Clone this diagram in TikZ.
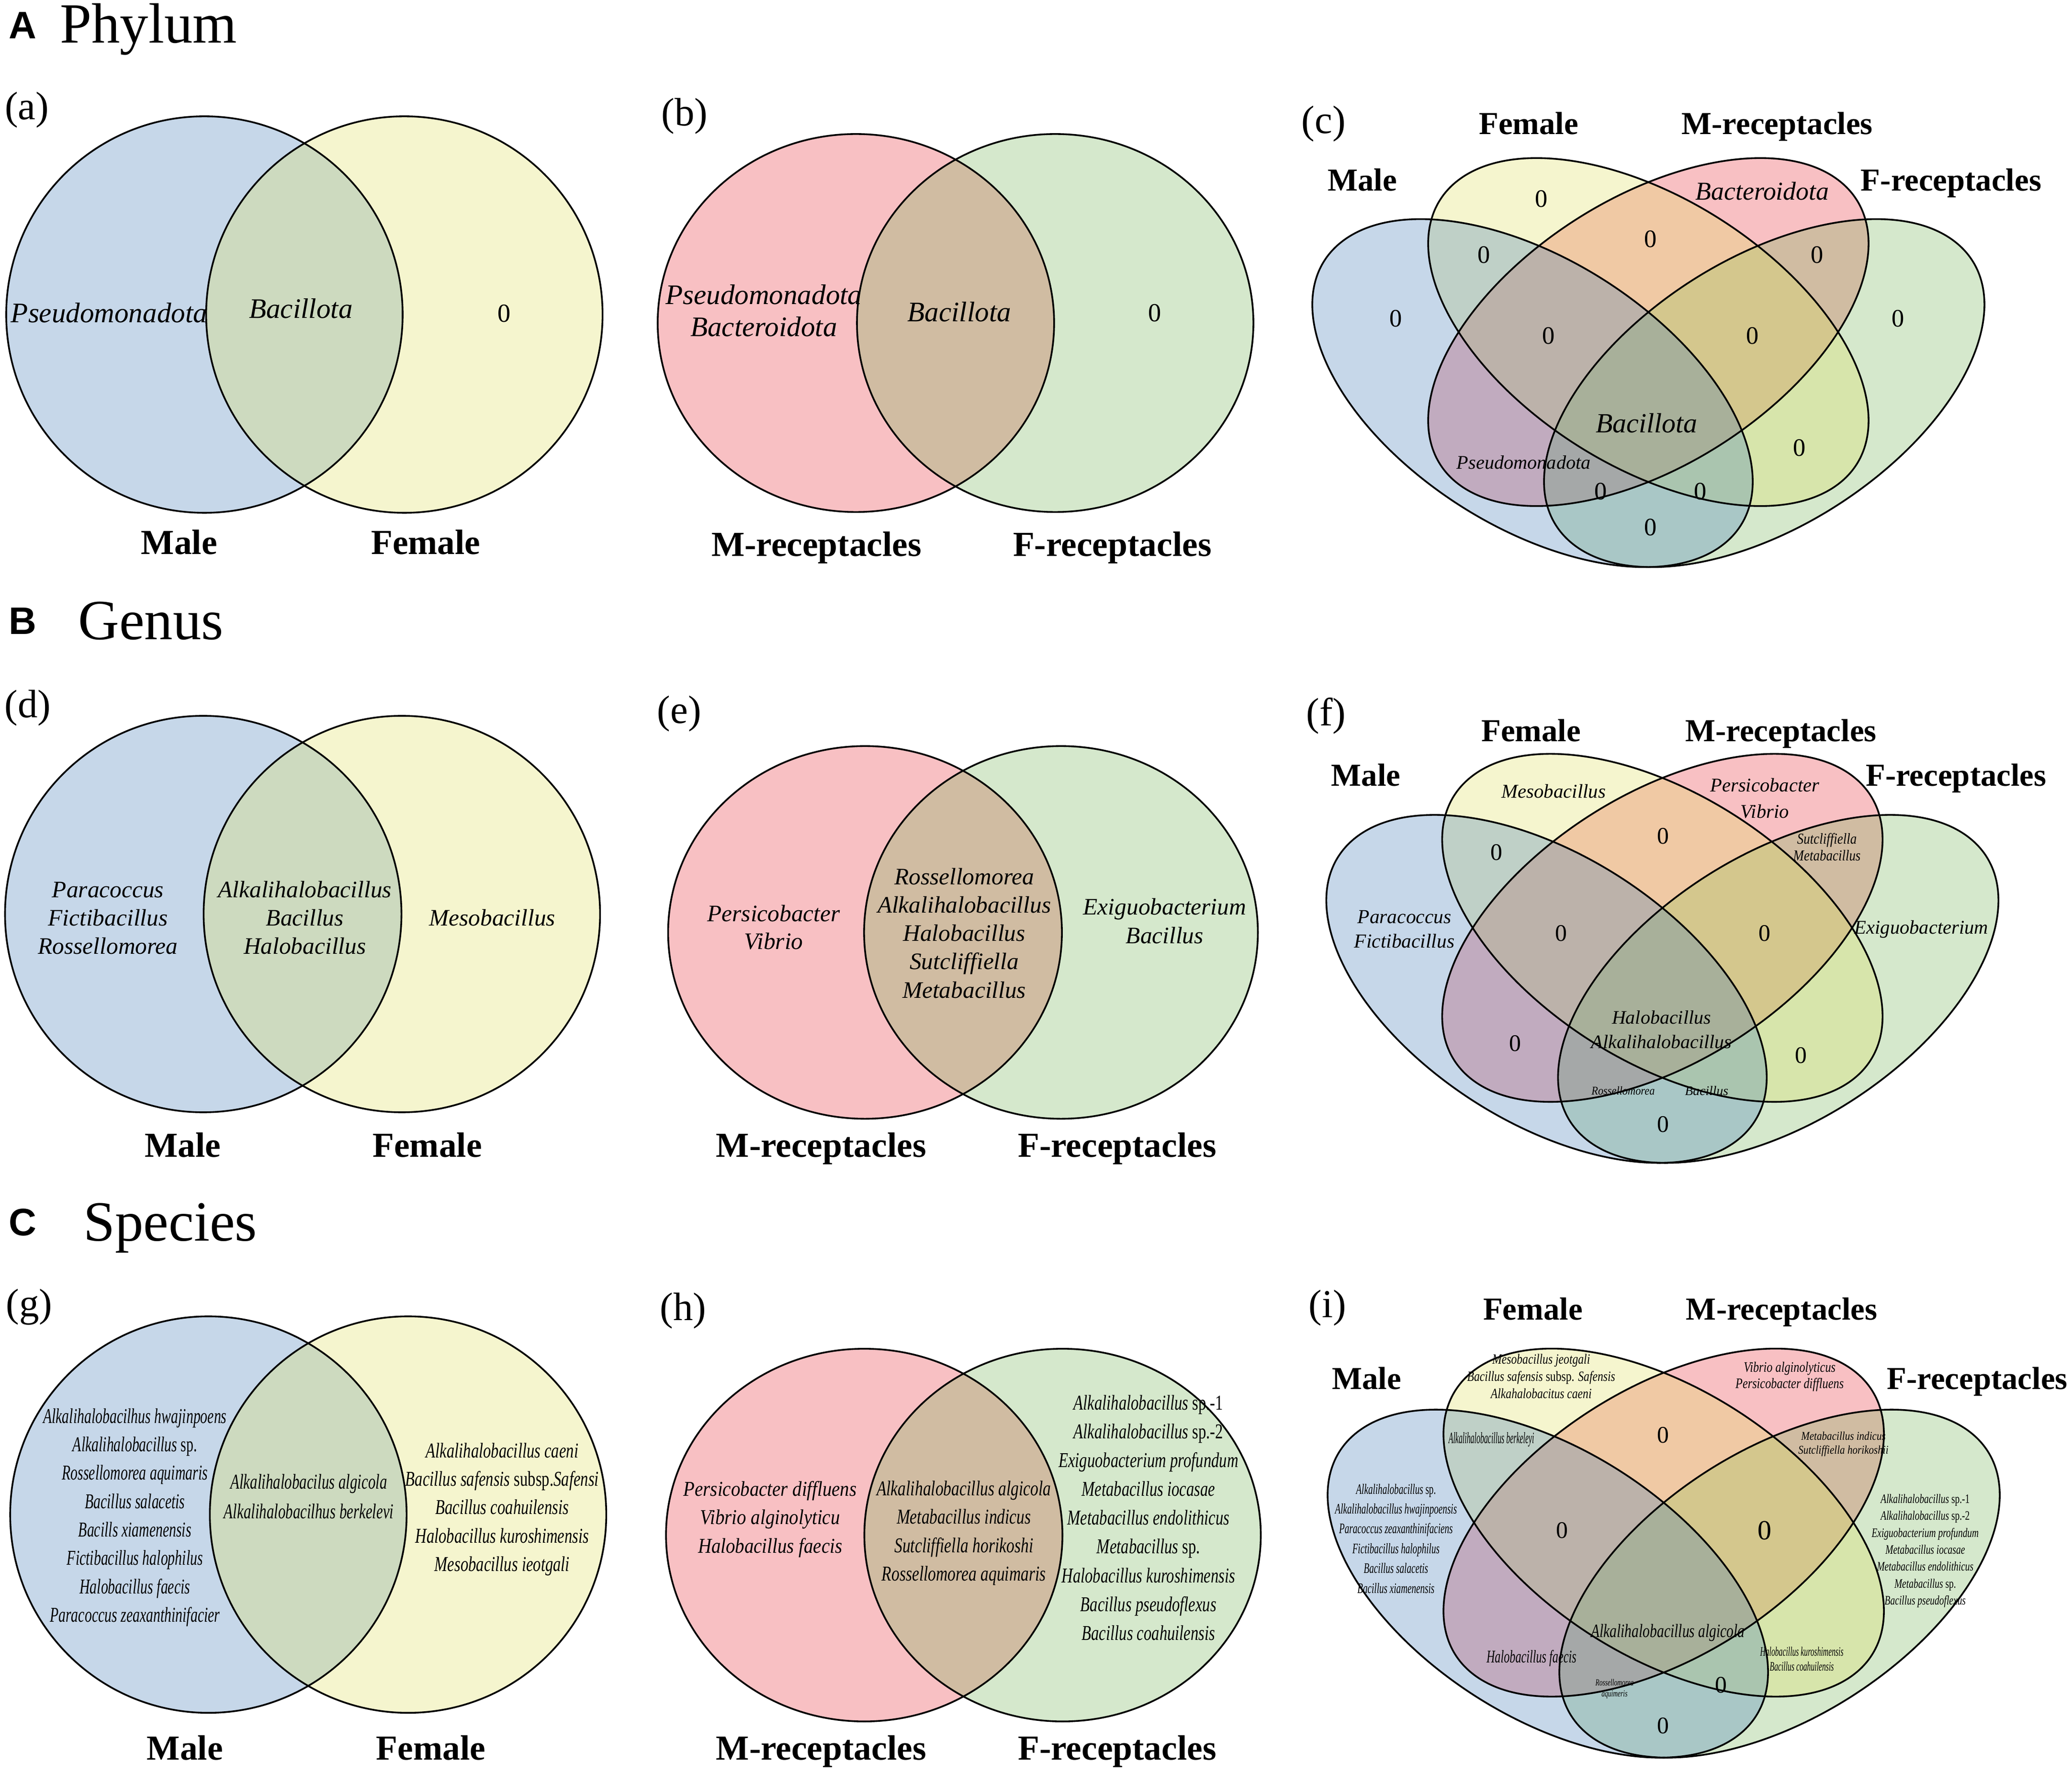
\documentclass[tikz,border=0pt]{standalone}
\usepackage{fontspec}
\setmainfont{Liberation Serif}
\newfontfamily\hdfont{Liberation Sans}
\usepackage{graphicx}
\newcommand{\sx}[2]{\scalebox{#1}[1]{#2}}
\newcommand{\fs}[1]{\fontsize{#1}{#1}\selectfont}
\definecolor{cblue}{RGB}{68,125,185}
\definecolor{cyel}{RGB}{222,225,95}
\definecolor{cpink}{RGB}{232,48,58}
\definecolor{cgreen}{RGB}{118,182,88}
\tikzset{
  vfill/.style={fill=#1, fill opacity=0.3, draw=none},
  vline/.style={draw=black, line width=1.3pt, fill=none},
  itx/.style={inner sep=0pt, anchor=base, font=\itshape},
  lab/.style={inner sep=0pt, anchor=base, font=\fs{26.6}\bfseries},
  labq/.style={inner sep=0pt, anchor=base, font=\fs{24.2}\bfseries},
  plab/.style={inner sep=0pt, anchor=base, font=\fs{30}},
  hdA/.style={inner sep=0pt, anchor=base west, font=\hdfont\bfseries\fs{29}},
  hdT/.style={inner sep=0pt, anchor=base west, font=\fs{43}},
  zero/.style={inner sep=0pt, anchor=base, font=\fs{#1}},
  zero/.default=19,
  it/.style={inner sep=0pt, anchor=base, font=\itshape\fs{#1}}
}
\newcommand{\tlist}[7]{%
  \foreach \tx [count=\ti] in {#7} {%
    \node[itx, font=\itshape\fs{#5}] (#1-\ti) at (#2,{#3+(\ti-1)*(#4)}) {\sx{#6}{\tx}};
  }}
\newcommand{\fourway}[2]{%
  \begin{scope}[shift={(#1,#2)}, xscale=584.5, yscale=-461.8]
    \fill[vfill=cpink, shift={(0,-0.0326)}, rotate=-45] (0,0) ellipse [x radius=0.35pt, y radius=0.2pt];
    \fill[vfill=cgreen, shift={(0.15,-0.1326)}, rotate=-45] (0,0) ellipse [x radius=0.35pt, y radius=0.2pt];
    \fill[vfill=cyel, shift={(0,-0.0326)}, rotate=45] (0,0) ellipse [x radius=0.35pt, y radius=0.2pt];
    \fill[vfill=cblue, shift={(-0.15,-0.1326)}, rotate=45] (0,0) ellipse [x radius=0.35pt, y radius=0.2pt];
    \draw[vline, shift={(0,-0.0326)}, rotate=-45] (0,0) ellipse [x radius=0.35pt, y radius=0.2pt];
    \draw[vline, shift={(0.15,-0.1326)}, rotate=-45] (0,0) ellipse [x radius=0.35pt, y radius=0.2pt];
    \draw[vline, shift={(0,-0.0326)}, rotate=45] (0,0) ellipse [x radius=0.35pt, y radius=0.2pt];
    \draw[vline, shift={(-0.15,-0.1326)}, rotate=45] (0,0) ellipse [x radius=0.35pt, y radius=0.2pt];
  \end{scope}}
\begin{document}
\begin{tikzpicture}[x=1pt,y=-1pt]
\useasboundingbox[fill=white] (0,0) rectangle (1568,1342);

% ---------- headers ----------
\node[hdA] (hA) at (6.5,29) {A};
\node[hdT] (tA) at (45.3,32.6) {Phylum};
\node[hdA] (hB) at (6.5,480) {B};
\node[hdT] (tB) at (59,484) {Genus};
\node[hdA] (hC) at (6.5,935) {C};
\node[hdT] (tC) at (63,939) {Species};

% ---------- panel (a) ----------
\fill[vfill=cblue] (154.7,238) circle [radius=150pt];
\fill[vfill=cyel] (306,238) circle [radius=150pt];
\draw[vline] (154.7,238) circle [radius=150pt];
\draw[vline] (306,238) circle [radius=150pt];
\node[plab] (pa) at (20.3,90.4) {(a)};
\node[it=21.4] (a1) at (82.6,244) {Pseudomonadota};
\node[it=21.4] (a2) at (227.7,240.6) {Bacillota};
\node[zero=19.7] (a3) at (381.5,243.6) {0};
\node[lab] (aM) at (135.6,419.5) {Male};
\node[lab] (aF) at (322.2,419.5) {Female};

% ---------- panel (b) ----------
\fill[vfill=cpink] (647.7,244.4) ellipse [x radius=150pt, y radius=143pt];
\fill[vfill=cgreen] (798.5,244.4) ellipse [x radius=150pt, y radius=143pt];
\draw[vline] (647.7,244.4) ellipse [x radius=150pt, y radius=143pt];
\draw[vline] (798.5,244.4) ellipse [x radius=150pt, y radius=143pt];
\node[plab] (pb) at (518,95) {(b)};
\node[it=21.4] (b1) at (578,230.2) {Pseudomonadota};
\node[it=21.4] (b2) at (578,254.5) {Bacteroidota};
\node[it=21.4] (b3) at (726,243.1) {Bacillota};
\node[zero=19.7] (b4) at (873.9,243.1) {0};
\node[lab] (bM) at (617.9,420.7) {M-receptacles};
\node[lab] (bF) at (841.7,420.7) {F-receptacles};

% ---------- panel (c) ----------
\fourway{1247.4}{236.2}
\node[plab] (pc) at (1001.7,101) {(c)};
\node[labq] (cMa) at (1030.9,144.2) {Male};
\node[labq] (cFe) at (1156.8,101.7) {Female};
\node[labq] (cMr) at (1344.9,101.7) {M-receptacles};
\node[labq] (cFr) at (1476.5,144.2) {F-receptacles};
\node[zero] (c1) at (1166.3,156.6) {0};
\node[it=19.5] (c2) at (1333.6,151.3) {Bacteroidota};
\node[zero] (c3) at (1123,199) {0};
\node[zero] (c4) at (1249,187.2) {0};
\node[zero] (c5) at (1375,199) {0};
\node[zero] (c6) at (1056.4,247.3) {0};
\node[zero] (c7) at (1436.3,247.3) {0};
\node[zero] (c8) at (1171.9,260.3) {0};
\node[zero] (c9) at (1326.1,260.3) {0};
\node[it=21] (c10) at (1246,327.5) {Bacillota};
\node[it=14.6] (c11) at (1153.1,354.9) {Pseudomonadota};
\node[zero] (c12) at (1361.8,345.1) {0};
\node[zero] (c13) at (1211.4,378.1) {0};
\node[zero] (c14) at (1286.6,378.1) {0};
\node[zero] (c15) at (1249,405.2) {0};

% ---------- panel (d) ----------
\fill[vfill=cblue] (153.8,691.6) circle [radius=150pt];
\fill[vfill=cyel] (304.1,691.6) circle [radius=150pt];
\draw[vline] (153.8,691.6) circle [radius=150pt];
\draw[vline] (304.1,691.6) circle [radius=150pt];
\node[plab] (pd) at (21,543) {(d)};
\tlist{dL}{81.7}{679}{21.45}{17.9}{1}{Paracoccus,Fictibacillus,Rossellomorea}
\tlist{dC}{230.7}{679}{21.45}{17.9}{1}{Alkalihalobacillus,Bacillus,Halobacillus}
\node[it=17.9] (dR) at (372.5,700.6) {Mesobacillus};
\node[lab] (dM) at (138.3,875.5) {Male};
\node[lab] (dF) at (323.4,875.5) {Female};

% ---------- panel (e) ----------
\fill[vfill=cpink] (654.6,705.5) ellipse [x radius=149pt, y radius=141pt];
\fill[vfill=cgreen] (802.9,705.5) ellipse [x radius=149pt, y radius=141pt];
\draw[vline] (654.6,705.5) ellipse [x radius=149pt, y radius=141pt];
\draw[vline] (802.9,705.5) ellipse [x radius=149pt, y radius=141pt];
\node[plab] (pe) at (514,547.2) {(e)};
\tlist{eL}{585.5}{697.2}{21.1}{17.9}{1}{Persicobacter,Vibrio}
\tlist{eC}{729.7}{669.3}{21.43}{17.9}{1}{Rossellomorea,Alkalihalobacillus,Halobacillus,Sutcliffiella,Metabacillus}
\tlist{eR}{881.4}{692}{21.9}{17.9}{1}{Exiguobacterium,Bacillus}
\node[lab] (eM) at (621.4,875.5) {M-receptacles};
\node[lab] (eF) at (845.4,875.5) {F-receptacles};

% ---------- panel (f) ----------
\fourway{1258}{687}
\node[plab] (pf) at (1003.6,549) {(f)};
\node[labq] (fMa) at (1033.7,594.6) {Male};
\node[labq] (fFe) at (1158.7,561.1) {Female};
\node[labq] (fMr) at (1347.7,561.1) {M-receptacles};
\node[labq] (fFr) at (1480.3,594.6) {F-receptacles};
\node[it=14.8] (f1) at (1175.7,603.8) {Mesobacillus};
\tlist{f2}{1335.5}{599.1}{19.7}{14.7}{1}{Persicobacter,Vibrio}
\node[zero=18] (f3) at (1132.4,650.8) {0};
\node[zero=18] (f4) at (1258.4,638.6) {0};
\tlist{f5}{1382.5}{638.6}{12.7}{11.5}{0.85}{Sutcliffiella,Metabacillus}
\tlist{f6}{1062.8}{698.5}{18.5}{15}{1}{Paracoccus,Fictibacillus}
\node[zero=18] (f7) at (1181.3,712.1) {0};
\node[zero=18] (f8) at (1335.5,712.1) {0};
\node[it=14.7] (f9) at (1454,706.6) {Exiguobacterium};
\tlist{f10}{1257.3}{774.8}{18.5}{14.5}{1}{Halobacillus,Alkalihalobacillus}
\node[zero=18] (f11) at (1146.7,795.3) {0};
\node[zero=18] (f12) at (1362.9,804.5) {0};
\node[it=9] (f13) at (1228.3,828.5) {\sx{0.9}{Rossellomorea}};
\node[it=10] (f14) at (1291.5,828.6) {Bacillus};
\node[zero=18] (f15) at (1258.4,856.5) {0};

% ---------- panel (g) ----------
\fill[vfill=cblue] (157.7,1146) circle [radius=150pt];
\fill[vfill=cyel] (308.8,1146) circle [radius=150pt];
\draw[vline] (157.7,1146) circle [radius=150pt];
\draw[vline] (308.8,1146) circle [radius=150pt];
\node[plab] (pg) at (22,996) {(g)};
\tlist{gL}{102.1}{1076.8}{21.5}{16}{0.675}{Alkalihalobacilhus hwajinpoens,Alkalihalobacillus {\upshape sp.},Rossellomorea aquimaris,Bacillus salacetis,Bacills xiamenensis,Fictibacillus halophilus,Halobacillus faecis,Paracoccus zeaxanthinifacier}
\tlist{gC}{233.7}{1126.4}{22.5}{16}{0.7}{Alkalihalobacilus algicola,Alkalihalobacilhus berkelevi}
\tlist{gR}{380}{1102.8}{21.5}{16}{0.74}{Alkalihalobacillus caeni,Bacillus safensis {\upshape subsp.}Safensi,Bacillus coahuilensis,Halobacillus kuroshimensis,Mesobacillus ieotgali}
\node[lab] (gM) at (140,1331.5) {Male};
\node[lab] (gF) at (326,1331.5) {Female};

% ---------- panel (h) ----------
\fill[vfill=cpink] (654,1161.5) ellipse [x radius=150pt, y radius=141pt];
\fill[vfill=cgreen] (804.1,1161.5) ellipse [x radius=150pt, y radius=141pt];
\draw[vline] (654,1161.5) ellipse [x radius=150pt, y radius=141pt];
\draw[vline] (804.1,1161.5) ellipse [x radius=150pt, y radius=141pt];
\node[plab] (ph) at (517,999) {(h)};
\tlist{hL}{582.8}{1131.9}{21.5}{16}{0.88}{Persicobacter diffluens,Vibrio alginolyticu,Halobacillus faecis}
\tlist{hC}{729.4}{1131.6}{21.5}{16}{0.76}{Alkalihalobacillus algicola,Metabacillus indicus,Sutcliffiella horikoshi,Rossellomorea aquimaris}
\tlist{hR}{869.1}{1066.7}{21.78}{16}{0.74}{Alkalihalobacillus {\upshape sp.-1},Alkalihalobacillus {\upshape sp.-2},Exiguobacterium profundum,Metabacillus iocasae,Metabacillus endolithicus,Metabacillus {\upshape sp.},Halobacillus kuroshimensis,Bacillus pseudoflexus,Bacillus coahuilensis}
\node[lab] (hM) at (621.4,1331.5) {M-receptacles};
\node[lab] (hF) at (845.4,1331.5) {F-receptacles};

% ---------- panel (i) ----------
\fourway{1259}{1137}
\node[plab] (pi) at (1004.5,997) {(i)};
\node[labq] (iMa) at (1034.2,1051.3) {Male};
\node[labq] (iFe) at (1160,998.8) {Female};
\node[labq] (iMr) at (1348.3,998.8) {M-receptacles};
\node[labq] (iFr) at (1496.3,1051.3) {F-receptacles};
\tlist{i1}{1166.3}{1032.1}{13}{10.7}{0.8}{Mesobacillus jeotgali,Bacillus safensis {\upshape subsp.} Safensis,Alkahalobacitus caeni}
\tlist{i2}{1354.3}{1038}{12.3}{11}{0.8}{Vibrio alginolyticus,Persicobacter diffluens}
\node[zero=18] (i3) at (1258.4,1091.7) {0};
\node[it=12] (i4) at (1128.6,1092) {\sx{0.48}{Alkalihalobacillus berkeleyi}};
\tlist{i5}{1395}{1089.4}{10.6}{9}{0.85}{Metabacillus indicus,Sutcliffiella horikoshii}
\tlist{i6}{1056.4}{1130.4}{15}{11}{0.63}{Alkalihalobacillus {\upshape sp.},Alkalihalobacillus hwajinpoensis,Paracoccus zeaxanthinifaciens,Fictibacillus halophilus,Bacillus salacetis,Bacillus xiamenensis}
\node[zero=18] (i7) at (1182,1163.8) {0};
\node[zero=21] (i8) at (1335.5,1164.9) {0};
\tlist{i9}{1456.9}{1137.4}{12.8}{9.8}{0.72}{Alkalihalobacillus {\upshape sp.-1},Alkalihalobacillus {\upshape sp.-2},Exiguobacterium profundum,Metabacillus iocasae,Metabacillus endolithicus,Metabacillus {\upshape sp.},Bacillus pseudoflexus}
\node[it=14.3] (i10) at (1262.2,1239) {\sx{0.75}{Alkalihalobacillus algicola}};
\node[it=13.5] (i11) at (1158.9,1258) {\sx{0.65}{Halobacillus faecis}};
\tlist{i12}{1363.5}{1253}{11.3}{9.8}{0.58}{Halobacillus kuroshimensis,Bacillus coahuilensis}
\tlist{i13}{1221.8}{1275.5}{8.1}{7}{0.7}{Rossellomorea,aquimeris}
\node[zero=18] (i14) at (1302.4,1280.9) {0};
\node[zero=18] (i15) at (1258.4,1311.7) {0};
\end{tikzpicture}
\end{document}
